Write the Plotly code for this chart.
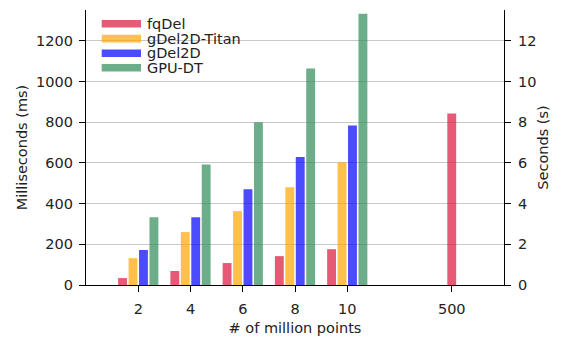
import plotly.graph_objects as go

# Problem sizes (millions of points) and run times in milliseconds
sizes = ["2", "4", "6", "8", "10"]
big_size = "500"

fqdel_ms = [34, 69, 108, 142, 176]
gdel2d_titan_ms = [132, 260, 363, 480, 603]
gdel2d_ms = [172, 333, 471, 629, 784]
gpudt_ms = [333, 593, 800, 1064, 1333]

# fqDel on the largest input, in seconds (right axis)
fqdel_big_s = [8.43]

series_names = ["fqDel", "gDel2D-Titan", "gDel2D", "GPU-DT"]
series_values = [fqdel_ms, gdel2d_titan_ms, gdel2d_ms, gpudt_ms]
colors = [
    "rgba(220,20,60,0.7)",
    "rgba(255,165,0,0.7)",
    "rgba(0,0,255,0.7)",
    "rgba(46,139,87,0.7)",
]

FONT = "DejaVu Sans"
FS = 14.5
TEXT = "#222222"

# Plot area in pixels
W, H = 561, 337
L, R, T, B = 86, 504, 10, 285

slot = 0.2
bar_w = 0.17
positions = [i + 1 for i in range(len(sizes))]
big_pos = len(sizes) + 2

fig = go.Figure()
n = len(series_names)
for k, (name, vals, col) in enumerate(zip(series_names, series_values, colors)):
    off = -slot * n / 2 + k * slot + (slot - bar_w) / 2
    fig.add_trace(go.Bar(
        x=positions, y=vals, name=name, width=bar_w, offset=off,
        marker=dict(color=col, line=dict(width=0)), showlegend=False,
    ))

fig.add_trace(go.Bar(
    x=[big_pos], y=fqdel_big_s, name="fqDel", width=bar_w, offset=-bar_w / 2,
    marker=dict(color=colors[0], line=dict(width=0)), yaxis="y2", showlegend=False,
))

ymax_ms = 1352


def px_x(px):
    return (px - L) / (R - L)


def px_y(py):
    return (B - py) / (B - T)


# Legend drawn as wide colour patches with labels
shapes = []
annotations = []
row_y = [23.8, 38.6, 53.2, 67.8]
for name, col, ry in zip(series_names, colors, row_y):
    shapes.append(dict(
        type="rect", xref="paper", yref="paper",
        x0=px_x(101.7), x1=px_x(141), y0=px_y(ry + 3.8), y1=px_y(ry - 3.8),
        fillcolor=col, line=dict(width=0), layer="above",
    ))
    annotations.append(dict(
        xref="paper", yref="paper", x=px_x(146), y=px_y(ry),
        text=name, showarrow=False, xanchor="left", yanchor="middle",
        borderpad=0,
        font=dict(family=FONT, size=FS, color=TEXT),
    ))

axis_common = dict(
    ticks="outside", ticklen=6, tickwidth=1.2, tickcolor="black",
    showline=True, linecolor="black", linewidth=1.2, zeroline=False,
    automargin=False,
    tickfont=dict(family=FONT, size=FS, color=TEXT),
)
title_font = dict(family=FONT, size=FS, color=TEXT)

fig.update_layout(
    width=W, height=H,
    margin=dict(l=L, r=W - R, t=T, b=H - B, pad=0),
    paper_bgcolor="white", plot_bgcolor="white",
    barmode="overlay",
    font=dict(family=FONT, size=FS, color=TEXT),
    shapes=shapes, annotations=annotations,
    xaxis=dict(
        range=[0, len(sizes) + 3],
        tickmode="array", tickvals=positions + [big_pos], ticktext=sizes + [big_size],
        showgrid=False, ticklabelstandoff=4,
        title=dict(text="# of million points", standoff=7, font=title_font),
        **axis_common,
    ),
    yaxis=dict(
        range=[0, ymax_ms],
        tickvals=[0, 200, 400, 600, 800, 1000, 1200],
        showgrid=True, gridcolor="#c8c8c8", gridwidth=1,
        ticklabelstandoff=3,
        title=dict(text="Milliseconds (ms)", standoff=5, font=title_font),
        **axis_common,
    ),
    yaxis2=dict(
        range=[0, ymax_ms / 100],
        tickvals=[0, 2, 4, 6, 8, 10, 12],
        overlaying="y", side="right",
        showgrid=False, ticklabelstandoff=4,
        title=dict(text="Seconds (s)", standoff=2, font=title_font),
        **axis_common,
    ),
)

fig.write_html("out.html")
